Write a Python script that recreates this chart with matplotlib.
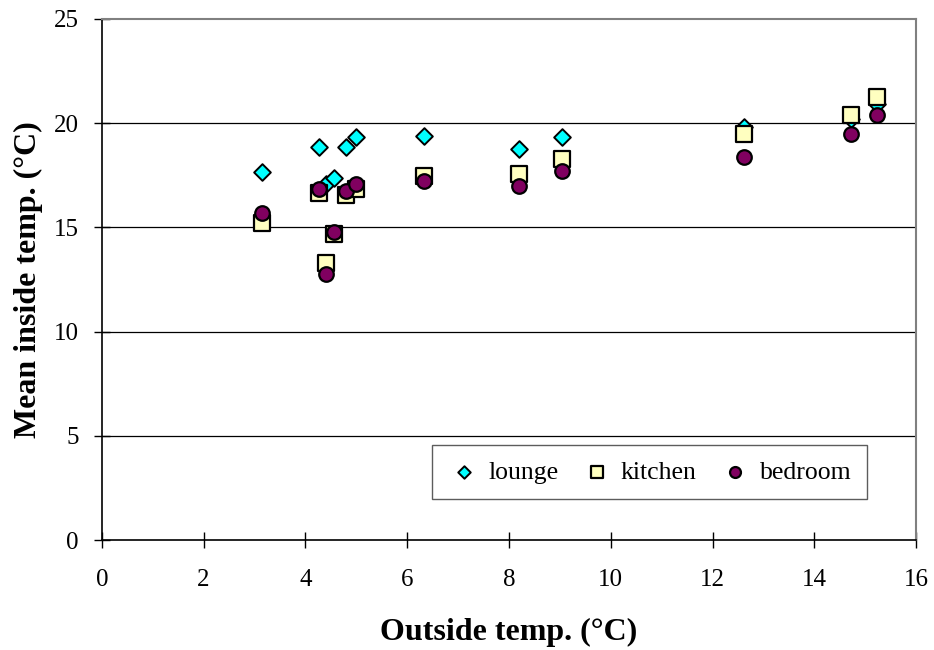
import matplotlib
matplotlib.use("Agg")
import matplotlib.pyplot as plt

outside = [3.14, 4.26, 4.40, 4.56, 4.80, 4.99, 6.33, 8.19, 9.04, 12.62, 14.72, 15.23]
lounge  = [17.66, 18.86, 17.10, 17.38, 18.86, 19.34, 19.40, 18.76, 19.35, 19.80, 20.20, 20.90]
kitchen = [15.20, 16.67, 13.30, 14.70, 16.55, 16.83, 17.45, 17.55, 18.28, 19.49, 20.37, 21.26]
bedroom = [15.70, 16.86, 12.75, 14.77, 16.75, 17.10, 17.20, 17.00, 17.72, 18.38, 19.46, 20.40]

xticks = [0, 2, 4, 6, 8, 10, 12, 14, 16]
yticks = [0, 5, 10, 15, 20, 25]

plt.rcParams['font.family'] = ['Liberation Serif', 'DejaVu Serif']

fig = plt.figure(figsize=(9.34, 6.5), dpi=100)
ax = fig.add_axes([0.109, 0.169, 0.872, 0.802])

for y in [5, 10, 15, 20]:
    ax.axhline(y, color='black', lw=0.9, zorder=1)

ax.scatter(outside, lounge, marker='D', s=72, facecolor='#00FFFF', edgecolor='black', linewidth=1.4, zorder=3, label='lounge')
ax.scatter(outside, kitchen, marker='s', s=125, facecolor='#FFFFC0', edgecolor='black', linewidth=1.6, zorder=4, label='kitchen')
ax.scatter(outside, bedroom, marker='o', s=110, facecolor='#800060', edgecolor='black', linewidth=1.6, zorder=5, label='bedroom')

ax.set_xlim(0, 16)
ax.set_ylim(0, 25)
ax.set_xticks(xticks)
ax.set_yticks(yticks)
ax.tick_params(axis='both', labelsize=18, direction='inout', length=11, width=1, colors='black')
ax.tick_params(axis='x', pad=15)
ax.tick_params(axis='y', pad=11)

for s in ['left', 'bottom']:
    ax.spines[s].set_color('black')
    ax.spines[s].set_linewidth(1.2)
for s in ['top', 'right']:
    ax.spines[s].set_color('#808080')
    ax.spines[s].set_linewidth(1.5)

ax.set_xlabel('Outside temp. (°C)', fontsize=23, fontweight='bold', labelpad=20)
ax.set_ylabel('Mean inside temp. (°C)', fontsize=23, fontweight='bold', labelpad=8)

leg = ax.legend(loc='lower left', bbox_to_anchor=(0.405, 0.079, 0.534, 0.10), mode='expand',
                ncol=3, fontsize=18.5, frameon=True, fancybox=False, edgecolor='#333333',
                handletextpad=0.3, columnspacing=0.8, handlelength=1.3, markerscale=0.75,
                borderpad=0.6, borderaxespad=0)
leg.get_frame().set_linewidth(1.0)

fig.savefig('out.png', dpi=100)
